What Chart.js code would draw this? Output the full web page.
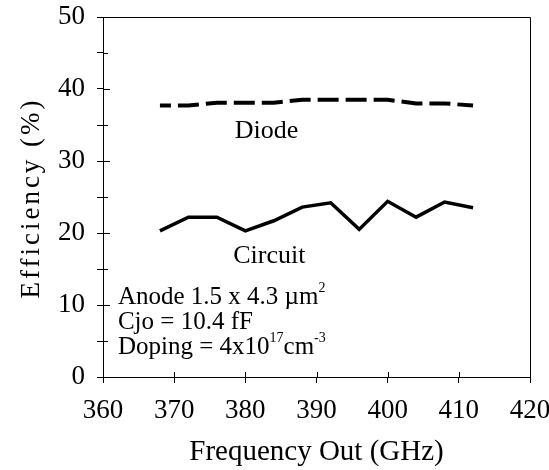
<!DOCTYPE html>
<html>
<head>
<meta charset="utf-8">
<script src="https://cdn.jsdelivr.net/npm/chart.js@4/dist/chart.umd.min.js"></script>
<style>
  html, body { margin: 0; padding: 0; background: #fff; }
  .wrap { width: 549px; height: 470px; }
</style>
</head>
<body>
<div class="wrap"><canvas id="myChart"></canvas></div>
<script>
// data
const freq = [368, 372, 376, 380, 384, 388, 392, 396, 400, 404, 408, 412];
const diode = [37.7, 37.7, 38.1, 38.1, 38.1, 38.5, 38.5, 38.5, 38.5, 38.0, 38.0, 37.7];
const circuit = [20.3, 22.2, 22.2, 20.3, 21.7, 23.6, 24.2, 20.5, 24.4, 22.2, 24.3, 23.5];

const xTitle = 'Frequency Out (GHz)';
const yTitle = 'Efficiency (%)';

// labels inside the plot, placed in data units
const labels = [
	{ runs: [['Diode']], x: 378.5, y: 34.2 },
	{ runs: [['Circuit']], x: 378.3, y: 16.8 }
];
const notes = [
	[['Anode 1.5 x 4.3 \u00b5m'], ['2', 'sup']],
	[['Cjo = 10.4 fF']],
	[['Doping = 4x10'], ['17', 'sup'], ['cm'], ['-3', 'sup']]
];
const notesX = 362.1;
const notesY = [11.1, 7.6, 4.1];

const serif = '"Liberation Serif", "Times New Roman", serif';

function drawRuns(ctx, runs, x, y, size) {
	let cx = x;
	runs.forEach(function (r) {
		if (r[1] === 'sup') {
			ctx.font = Math.round(size * 0.55) + 'px ' + serif;
			ctx.fillText(r[0], cx, y - size * 0.36);
		} else {
			ctx.font = size + 'px ' + serif;
			ctx.fillText(r[0], cx, y);
		}
		cx += ctx.measureText(r[0]).width;
	});
}

function noPad(s) {
	s.paddingTop = 0;
	s.paddingBottom = 0;
	s.paddingLeft = 0;
	s.paddingRight = 0;
}

const frame = {
	id: 'frame',
	afterDraw(chart) {
		const ctx = chart.ctx;
		const a = chart.chartArea;
		const xs = chart.scales.x, ys = chart.scales.y;
		ctx.save();
		ctx.strokeStyle = '#000';
		ctx.lineWidth = 1;
		ctx.beginPath();
		ctx.moveTo(a.left, a.top + 0.5);
		ctx.lineTo(a.right + 0.5, a.top + 0.5);
		ctx.lineTo(a.right + 0.5, a.bottom);
		// inner halves of the ticks
		xs.ticks.forEach(function (t) {
			const px = Math.round(xs.getPixelForValue(t.value)) + 0.5;
			ctx.moveTo(px, a.bottom);
			ctx.lineTo(px, a.bottom - 5);
		});
		ys.ticks.forEach(function (t) {
			const py = Math.round(ys.getPixelForValue(t.value)) + 0.5;
			ctx.moveTo(a.left, py);
			ctx.lineTo(a.left + (t.value % 10 === 0 ? 7 : 5), py);
		});
		ctx.stroke();

		ctx.fillStyle = '#000';
		ctx.textBaseline = 'middle';
		ctx.textAlign = 'left';
		labels.forEach(function (l) {
			drawRuns(ctx, l.runs, xs.getPixelForValue(l.x), ys.getPixelForValue(l.y), 26);
		});
		notes.forEach(function (runs, i) {
			drawRuns(ctx, runs, xs.getPixelForValue(notesX), ys.getPixelForValue(notesY[i]), 25);
		});

		// y title, spaced out like the original
		ctx.translate(32, (a.top + a.bottom) / 2 + 1);
		ctx.rotate(-Math.PI / 2);
		ctx.textAlign = 'center';
		ctx.font = '27px ' + serif;
		ctx.letterSpacing = '3px';
		ctx.fillText(yTitle, 0, 0);
		ctx.restore();
	}
};

const ctx = document.getElementById('myChart').getContext('2d');
const myChart = new Chart(ctx, {
	type: 'line',
	data: {
		datasets: [{
			label: 'Diode',
			data: freq.map(function (f, i) { return { x: f, y: diode[i] }; }),
			borderColor: '#000',
			borderWidth: 4,
			borderDash: [21, 7],
			borderDashOffset: 10,
			pointRadius: 0,
			tension: 0
		},
		{
			label: 'Circuit',
			data: freq.map(function (f, i) { return { x: f, y: circuit[i] }; }),
			borderColor: '#000',
			borderWidth: 3.5,
			pointRadius: 0,
			tension: 0
		}]
	},
	options: {
		responsive: true,
		maintainAspectRatio: false,
		animation: false,
		layout: { padding: { top: 17, right: 19, left: 0, bottom: 0 } },
		plugins: {
			legend: { display: false },
			tooltip: { enabled: false }
		},
		scales: {
			x: {
				type: 'linear',
				min: 360,
				max: 420,
				afterFit: function (s) { s.height = 93; noPad(s); },
				ticks: {
					stepSize: 5,
					padding: 12,
					color: '#000',
					font: { family: serif, size: 27 },
					maxRotation: 0,
					callback: function (v) { return v % 10 === 0 ? v : ''; }
				},
				grid: { drawOnChartArea: false, color: '#000', tickLength: 6 },
				border: { color: '#000', width: 1 },
				title: {
					display: true,
					text: xTitle,
					color: '#000',
					font: { family: serif, size: 29 },
					padding: { top: 0, bottom: 0 }
				}
			},
			y: {
				min: 0,
				max: 50,
				afterFit: function (s) { s.width = 103; noPad(s); },
				ticks: {
					stepSize: 5,
					padding: 12,
					color: '#000',
					font: { family: serif, size: 27 },
					callback: function (v) { return v % 10 === 0 ? v : ''; }
				},
				grid: { drawOnChartArea: false, color: '#000', tickLength: 6 },
				border: { color: '#000', width: 1 }
			}
		}
	},
	plugins: [frame]
});
</script>
</body>
</html>
